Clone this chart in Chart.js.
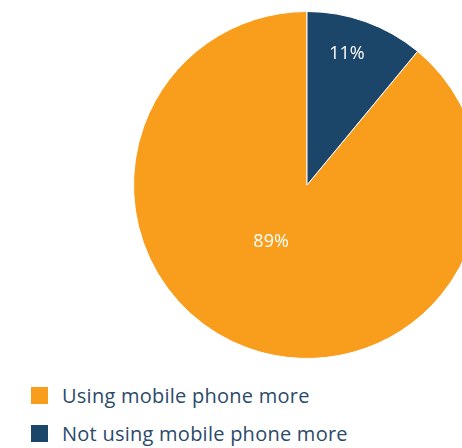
<!DOCTYPE html>
<html>
<head>
<meta charset="utf-8">
<script src="https://cdn.jsdelivr.net/npm/chart.js@4.4.1/dist/chart.umd.min.js"></script>
<style>
  html, body { margin: 0; padding: 0; width: 462px; height: 448px; overflow: hidden; background: #fff; }
  #pieBox { position: absolute; left: 133px; top: 11px; width: 348px; height: 348px; }
  #legend { position: absolute; left: 31px; top: 376px; font-family: "Open Sans", sans-serif; font-size: 20px; letter-spacing: 0.25px; color: #2b4a6a; }
  .row { display: flex; align-items: center; height: 38px; }
  .sw { width: 17px; height: 17px; margin-right: 14px; }
</style>
</head>
<body>
<div id="pieBox"><canvas id="pie" width="348" height="348"></canvas></div>
<div id="legend"></div>
<script>
// slices, in legend order
const labels = ['Using mobile phone more', 'Not using mobile phone more'];
const values = [89, 11];
const colors = ['#f89e1c', '#1b4569'];

// where each percent label sits, as a share of the radius from the centre
const labelOffset = [[-0.207, 0.325], [0.23, -0.755]];

const pctLabels = {
  id: 'pctLabels',
  afterDatasetsDraw(chart) {
    const ctx = chart.ctx;
    const arcs = chart.getDatasetMeta(0).data;
    ctx.save();
    ctx.fillStyle = '#ffffff';
    ctx.font = '18px "Open Sans", sans-serif';
    ctx.textAlign = 'center';
    ctx.textBaseline = 'middle';
    arcs.forEach((arc, i) => {
      const p = arc.getProps(['x', 'y', 'outerRadius']);
      const r = p.outerRadius;
      ctx.fillText(values[i] + '%', p.x + labelOffset[i][0] * r, p.y + labelOffset[i][1] * r);
    });
    ctx.restore();
  }
};

new Chart(document.getElementById('pie'), {
  type: 'pie',
  data: { labels, datasets: [{ data: values, backgroundColor: colors, borderColor: '#ffffff', borderWidth: 1 }] },
  options: {
    responsive: false,
    animation: false,
    rotation: values[1] / 100 * 360,
    layout: { padding: 0 },
    plugins: { legend: { display: false }, tooltip: { enabled: false } }
  },
  plugins: [pctLabels]
});

// html legend
const legend = document.getElementById('legend');
labels.forEach((l, i) => {
  const row = document.createElement('div');
  row.className = 'row';
  row.innerHTML = '<div class="sw" style="background:' + colors[i] + '"></div><span>' + l + '</span>';
  legend.appendChild(row);
});
</script>
</body>
</html>
